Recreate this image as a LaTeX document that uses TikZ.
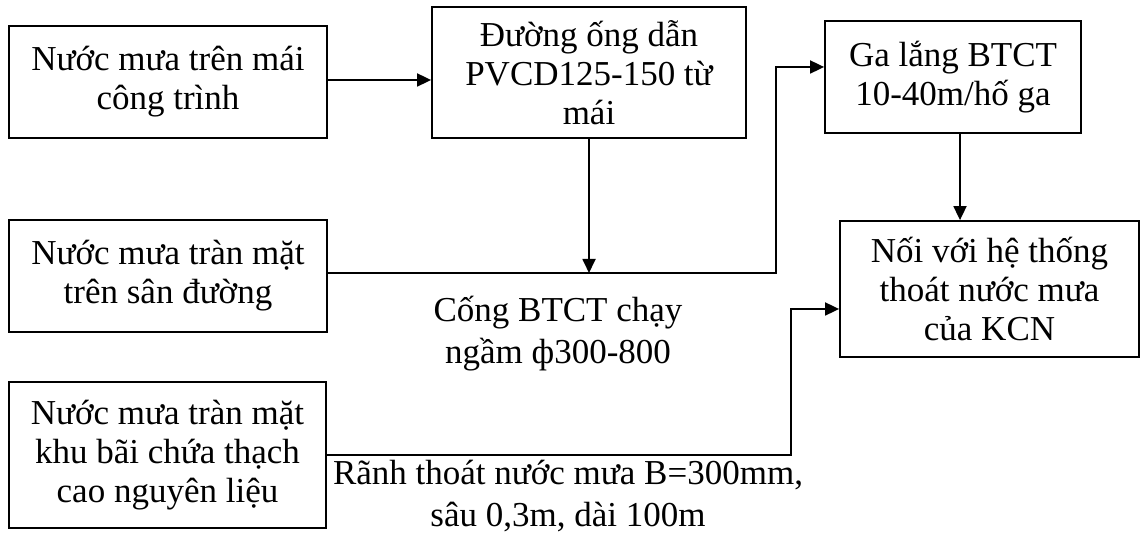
\documentclass[tikz,border=0pt]{standalone}
\usepackage{fontspec}
\setmainfont{Liberation Serif}
\usetikzlibrary{arrows.meta}
\begin{document}
\begin{tikzpicture}[x=0.5pt,y=-0.5pt,
  box/.style={draw, rectangle, line width=0.9pt, align=center, inner sep=0pt},
  flow/.style={-{Triangle[length=7pt,width=6.5pt]}, line width=0.9pt},
  lbl/.style={align=center, inner sep=0pt, font=\fontsize{17.5}{21}\selectfont},
  font=\fontsize{17.5}{19.5}\selectfont]
\useasboundingbox (0,0) rectangle (1140,533);
% boxes
\node[box, minimum width=159pt, minimum height=56pt] (roof) at (168,82) {Nước mưa trên mái\\công trình};
\node[box, minimum width=157pt, minimum height=65.5pt] (pipe) at (589,72.5) {Đường ống dẫn\\PVCD125-150 từ\\mái};
\node[box, minimum width=128pt, minimum height=56pt] (tank) at (953,77) {Ga lắng BTCT\\10-40m/hố ga};
\node[box, minimum width=159pt, minimum height=56pt] (yard) at (168,276) {Nước mưa tràn mặt\\trên sân đường};
\node[box, minimum width=149.5pt, minimum height=68pt] (outlet) at (989.5,289) {Nối với hệ thống\\thoát nước mưa\\của KCN};
\node[box, minimum width=158.5pt, minimum height=73pt] (stock) at (167.5,455) {Nước mưa tràn mặt\\khu bãi chứa thạch\\cao nguyên liệu};
% labels
\node[lbl] (sewerlbl) at (558,334) {Cống BTCT chạy\\ngầm ф300-800};
\node[lbl] (ditchlbl) at (568,496) {Rãnh thoát nước mưa B=300mm,\\sâu 0,3m, dài 100m};
% bends
\coordinate (sewer) at (589,273);
\coordinate (bendC) at (776,67);
\coordinate (bendE) at (791,309);
% connectors
\draw[flow] ([yshift=1pt]roof.east) -- ([yshift=1pt]roof.east -| pipe.west);
\draw[flow] (pipe) -- (sewer);
\draw[flow] ([yshift=1.5pt]yard.east) -| (bendC) -- (bendC -| tank.west);
\draw[flow] ([xshift=3.5pt]tank.south) -- ([xshift=3.5pt]tank.south |- outlet.north);
\draw[flow] (stock.east) -| (bendE) -- (bendE -| outlet.west);
\end{tikzpicture}
\end{document}
